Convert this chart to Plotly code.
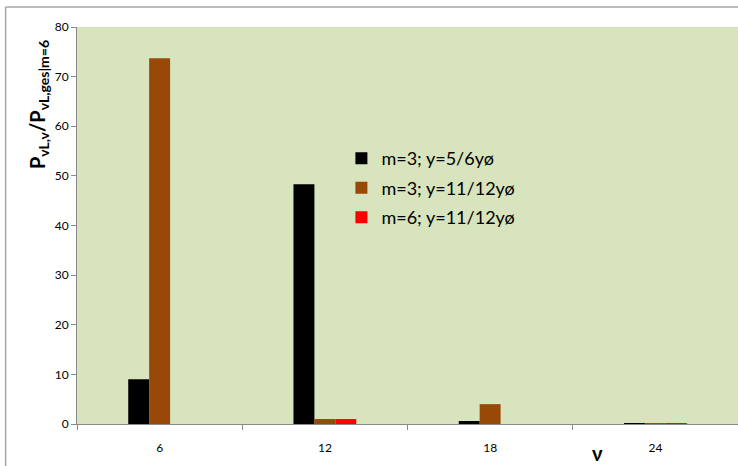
import plotly.graph_objects as go

categories = ["6", "12", "18", "24"]
series_names = ["m=3; y=5/6yø", "m=3; y=11/12yø", "m=6; y=11/12yø"]
black_vals = [9.0, 48.3, 0.6, 0.08]
brown_vals = [73.7, 1.0, 4.0, 0.06]
red_vals = [0.0, 1.0, 0.0, 0.08]
colors = ["#000000", "#984807", "#FF0000"]
y_ticks = [0, 10, 20, 30, 40, 50, 60, 70, 80]

FONT = "Lato, Carlito, Calibri, sans-serif"

fig = go.Figure()
for name, vals, col in zip(series_names, [black_vals, brown_vals, red_vals], colors):
    fig.add_trace(go.Bar(x=categories, y=vals, name=name, marker_color=col,
                         marker_line_width=0, legendgroup=name))

fig.update_layout(
    width=738, height=466,
    margin=dict(l=77, r=0, t=27, b=42),
    paper_bgcolor="white",
    plot_bgcolor="#D7E4BD",
    barmode="group",
    bargap=0.62,
    bargroupgap=0,
    font=dict(family=FONT, size=12, color="#000000"),
    showlegend=True,
    legend=dict(x=0.4, y=0.715, xanchor="left", yanchor="top",
                bgcolor="rgba(0,0,0,0)", font=dict(size=18, family=FONT),
                tracegroupgap=3, itemwidth=30),
    xaxis=dict(type="category", tickson="boundaries", ticks="outside", ticklen=5,
               tickcolor="#898989", showline=True, linecolor="#898989", linewidth=1,
               showgrid=False, tickfont=dict(size=12), ticklabelstandoff=13),
    yaxis=dict(range=[0, 80], tickvals=y_ticks, ticks="outside", ticklen=5,
               tickcolor="#898989", showline=True, linecolor="#898989", linewidth=1,
               showgrid=False, zeroline=False, tickfont=dict(size=12)),
    annotations=[
        dict(text="<b>P<sub>vL,v</sub>/P<sub>vL,ges|m=6</sub></b>", xref="paper", yref="paper",
             x=-0.058, y=0.805, textangle=-90, showarrow=False, xanchor="center", yanchor="middle",
             font=dict(size=20, family=FONT)),
        dict(text="<b>ν</b>", xref="paper", yref="paper", x=0.787, y=-0.072,
             showarrow=False, xanchor="center", yanchor="middle",
             font=dict(size=20, family=FONT)),
    ],
    shapes=[
        dict(type="line", xref="paper", yref="paper", x0=-0.108, x1=1.05, y0=1.0504, y1=1.0504,
             line=dict(color="#A6A6A6", width=1.5)),
        dict(type="line", xref="paper", yref="paper", x0=-0.108, x1=-0.108, y0=1.0504, y1=-0.2,
             line=dict(color="#A6A6A6", width=1.5)),
    ],
)

fig.write_html("out.html")
